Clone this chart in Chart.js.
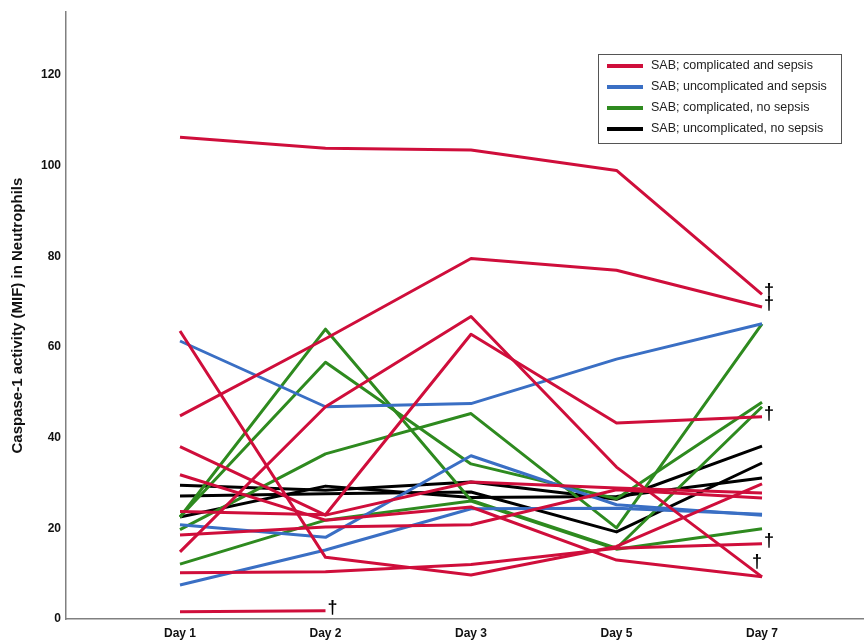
<!DOCTYPE html>
<html>
<head>
<meta charset="utf-8">
<script src="https://cdn.jsdelivr.net/npm/chart.js@4.4.1/dist/chart.umd.min.js"></script>
<style>
  html, body { margin: 0; padding: 0; background: #fff; }
  #wrap { width: 864px; height: 642px; }
</style>
</head>
<body>
<div id="wrap"><canvas id="c" width="864" height="642"></canvas></div>
<script>
// Sampling days and y-axis ticks
const dayLabels = ['Day 1', 'Day 2', 'Day 3', 'Day 5', 'Day 7'];
const yTicks = [0, 20, 40, 60, 80, 100, 120];

const groupNames = [
  'SAB; complicated and sepsis',
  'SAB; uncomplicated and sepsis',
  'SAB; complicated, no sepsis',
  'SAB; uncomplicated, no sepsis'
];

// Caspase-1 activity (MIF) per patient, one row per patient, columns = dayLabels
const complicatedSepsis = [
  [106.2, 103.8, 103.4, 98.9, 71.6],
  [44.8, 61.8, 79.5, 76.9, 68.8],
  [63.5, 13.6, 9.7, 16.0, 29.8],
  [38.0, 22.9, 30.2, 28.9, 27.8],
  [31.8, 21.8, 24.7, 13.0, 9.3],
  [23.7, 23.0, 62.8, 43.2, 44.6],
  [18.5, 20.3, 20.8, 28.5, 26.7],
  [14.8, 46.8, 66.7, 33.5, 9.3],
  [10.2, 10.4, 12.0, 15.6, 16.6],
  [1.6, 1.8, null, null, null]
];
// patients who died (marked with a dagger after their last measurement)
const complicatedSepsisDied = [true, true, false, false, true, true, false, false, true, true];

const uncomplicatedSepsis = [
  [61.3, 46.8, 47.5, 57.3, 65.1],
  [20.8, 18.0, 36.0, 25.2, 22.9],
  [7.5, 15.2, 24.3, 24.4, 23.1]
];

const complicatedNoSepsis = [
  [22.5, 63.9, 26.2, 15.6, 46.8],
  [22.5, 56.6, 34.2, 26.5, 47.8],
  [19.7, 36.4, 45.3, 20.1, 65.1],
  [12.1, 21.8, 26.0, 15.4, 19.9]
];

const uncomplicatedNoSepsis = [
  [29.5, 28.4, 30.2, 26.4, 38.1],
  [27.1, 27.6, 28.0, 19.2, 34.4],
  [22.5, 29.3, 26.8, 27.0, 31.1]
];

const groupColors = ['#CF0E3B', '#3A6FC4', '#2E8A1F', '#000000'];
const FONT = '"Liberation Sans", Arial, Helvetica, sans-serif';

// dagger drawn above the end point instead of to its right (two lines share that end)
const daggerAbove = { 0: { 4: true } };

const groups = [complicatedSepsis, uncomplicatedSepsis, complicatedNoSepsis, uncomplicatedNoSepsis];
const diedFlags = [complicatedSepsisDied, [], [], []];

const datasets = [];
groups.forEach((rows, g) => {
  rows.forEach((row, r) => {
    datasets.push({
      label: groupNames[g],
      data: row.map((v, i) => ({ x: i, y: v })),
      borderColor: groupColors[g],
      backgroundColor: groupColors[g],
      borderWidth: 3,
      pointRadius: 0,
      tension: 0,
      spanGaps: false,
      borderJoinStyle: 'round',
      died: !!diedFlags[g][r],
      daggerAbove: !!(daggerAbove[g] && daggerAbove[g][r])
    });
  });
});

const daggerPlugin = {
  id: 'daggers',
  afterDatasetsDraw(chart) {
    const ctx = chart.ctx;
    ctx.save();
    ctx.fillStyle = '#000';
    ctx.font = 'bold 18px ' + FONT;
    ctx.textBaseline = 'middle';
    chart.data.datasets.forEach((ds, di) => {
      if (!ds.died) return;
      const meta = chart.getDatasetMeta(di);
      let last = -1;
      ds.data.forEach((p, i) => { if (p.y !== null) last = i; });
      const el = meta.data[last];
      if (!el) return;
      if (ds.daggerAbove) {
        ctx.textAlign = 'center';
        ctx.fillText('\u2020', el.x - 5, el.y - 15);
      } else {
        ctx.textAlign = 'left';
        ctx.fillText('\u2020', el.x + 2, el.y - 3);
      }
    });
    ctx.restore();
  }
};

const legendPlugin = {
  id: 'groupLegend',
  afterDraw(chart) {
    const ctx = chart.ctx;
    const right = chart.chartArea.right - 22;
    const left = right - 243;
    const top = 54;
    ctx.save();
    ctx.strokeStyle = '#555';
    ctx.lineWidth = 1;
    ctx.strokeRect(left + 0.5, top + 0.5, 243, 89);
    ctx.font = '12.5px ' + FONT;
    ctx.textBaseline = 'middle';
    ctx.textAlign = 'left';
    groupNames.forEach((name, i) => {
      const y = top + 12 + 21 * i;
      ctx.strokeStyle = groupColors[i];
      ctx.lineWidth = 4;
      ctx.beginPath();
      ctx.moveTo(left + 9, y);
      ctx.lineTo(left + 45, y);
      ctx.stroke();
      ctx.fillStyle = '#222';
      ctx.fillText(name, left + 53, y);
    });
    ctx.restore();
  }
};

new Chart(document.getElementById('c'), {
  type: 'line',
  data: { datasets },
  plugins: [daggerPlugin, legendPlugin],
  options: {
    responsive: false,
    animation: false,
    devicePixelRatio: 1,
    layout: { padding: { top: 10, right: 1, left: 0, bottom: 0 } },
    plugins: { legend: { display: false }, tooltip: { enabled: false } },
    scales: {
      x: {
        type: 'linear',
        min: -0.7835,
        max: 4.694,
        afterBuildTicks: s => { s.ticks = dayLabels.map((_, i) => ({ value: i })); },
        afterFit: s => { s.height = 23; },
        grid: { display: false, drawTicks: false },
        border: { display: true, color: '#808080', width: 1.5 },
        ticks: {
          callback: v => dayLabels[v] ?? '',
          font: { family: FONT, size: 12, weight: 'bold' },
          color: '#111',
          padding: 7,
          maxRotation: 0,
          autoSkip: false
        }
      },
      y: {
        min: 0,
        max: 133.8,
        afterBuildTicks: s => { s.ticks = yTicks.map(v => ({ value: v })); },
        afterFit: s => { s.width = 66; },
        grid: { display: false, drawTicks: false },
        border: { display: true, color: '#808080', width: 1.5 },
        ticks: {
          font: { family: FONT, size: 12, weight: 'bold' },
          color: '#111',
          padding: 5
        },
        title: {
          display: true,
          text: 'Caspase-1 activity (MIF) in Neutrophils',
          font: { family: FONT, size: 15, weight: 'bold' },
          color: '#111',
          padding: { top: 9, bottom: 0 }
        }
      }
    }
  }
});
</script>
</body>
</html>
